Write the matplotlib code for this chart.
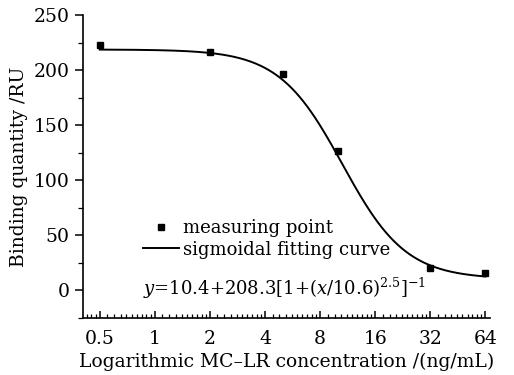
import numpy as np
import matplotlib.pyplot as plt
from matplotlib.ticker import LogLocator, FixedLocator, FixedFormatter, MultipleLocator, NullFormatter
from matplotlib.transforms import blended_transform_factory
from matplotlib.lines import Line2D

plt.rcParams["font.family"] = "DejaVu Serif"
plt.rcParams["mathtext.fontset"] = "dejavuserif"

conc = [0.5, 2, 5, 10, 32, 64]
binding = [223, 216, 196, 127, 20, 16]

# sigmoidal fit parameters shown in the chart
y0, A, x0, p = 10.4, 208.3, 10.6, 2.5

xticks = [0.5, 1, 2, 4, 8, 16, 32, 64]
xticklabels = ["0.5", "1", "2", "4", "8", "16", "32", "64"]

xs = np.logspace(np.log2(0.5), np.log2(64), 300, base=2)
fit = y0 + A / (1 + (xs / x0) ** p)

fig = plt.figure(figsize=(5.14, 3.75), dpi=100)
ax = fig.add_axes([0.1615, 0.152, 0.792, 0.808])

ax.plot(xs, fit, color="black", lw=1.4)
ax.plot(conc, binding, "s", color="black", ms=4.8, lw=0)

ax.set_xscale("log", base=2)
ax.set_xlim(0.405, 68)
ax.set_ylim(-25, 250)
ax.xaxis.set_major_locator(FixedLocator(xticks))
ax.xaxis.set_major_formatter(FixedFormatter(xticklabels))
ax.xaxis.set_minor_locator(LogLocator(base=2, subs=np.arange(1.1, 2.0, 0.1), numticks=50))
ax.xaxis.set_minor_formatter(NullFormatter())
ax.yaxis.set_major_locator(MultipleLocator(50))
ax.yaxis.set_minor_locator(MultipleLocator(25))

ax.spines["top"].set_visible(False)
ax.spines["right"].set_visible(False)
for s in ["left", "bottom"]:
    ax.spines[s].set_linewidth(1.2)

ax.tick_params(axis="x", which="major", direction="in", length=5, width=1.1, labelsize=13.5, pad=9)
ax.tick_params(axis="x", which="minor", direction="in", length=3, width=0.9)
ax.tick_params(axis="y", which="major", direction="out", length=6, width=1.1, labelsize=13.5)
ax.tick_params(axis="y", which="minor", direction="out", length=3.5, width=0.9)

ax.set_xlabel("Logarithmic MC\u2013LR concentration /(ng/mL)", fontsize=13.5, labelpad=3)
ax.set_ylabel("Binding quantity /RU", fontsize=13.5, labelpad=4)

handles = [
    Line2D([], [], marker="s", color="black", ls="none", ms=4.8),
    Line2D([], [], color="black", lw=1.4),
]
ax.legend(handles, ["measuring point", "sigmoidal fitting curve"], loc="upper left",
          bbox_to_anchor=(0.13, 0.35), frameon=False, fontsize=13, handlelength=2.0,
          handletextpad=0.2, labelspacing=0.2, borderaxespad=0)

trans = blended_transform_factory(ax.transAxes, ax.transData)
ax.text(0.147, 2, r"$y$=10.4+208.3[1+($x$/10.6)$^{2.5}$]$^{-1}$", transform=trans,
        va="center", ha="left", fontsize=13)

fig.savefig("out.png", dpi=100)
